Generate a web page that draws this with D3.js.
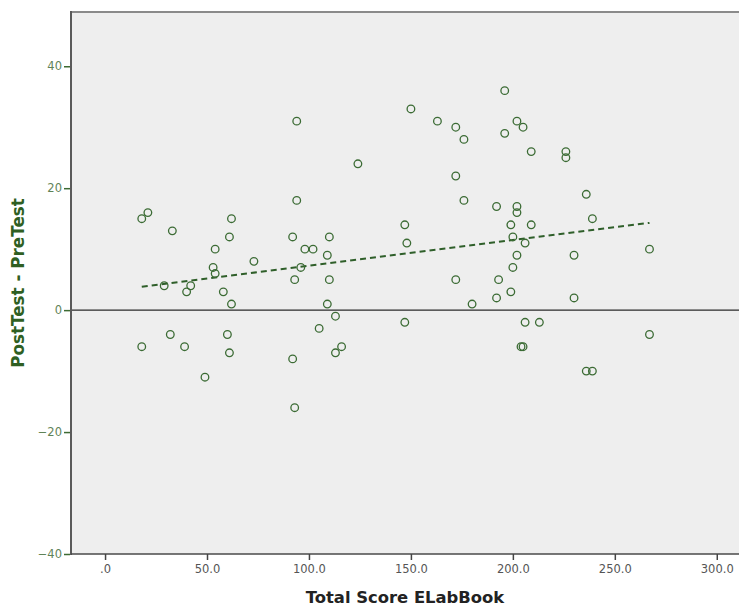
<!DOCTYPE html>
<html>
<head>
<meta charset="utf-8">
<script src="https://cdn.jsdelivr.net/npm/d3@7"></script>
<style>
html,body{margin:0;padding:0;background:#fff;}
svg{display:block;}
</style>
</head>
<body>
<svg id="chart" width="739" height="606"></svg>
<script>
// Data: Total Score ELabBook (x) vs PostTest - PreTest (y)
const scoreX = [94,124,21,18,33,62,61,94,92,110,54,98,102,109,73,53,54,96,93,110,29,42,40,58,62,109,113,105,32,60,18,39,61,116,113,92,49,93,
  196,150,163,172,176,202,205,196,209,226,226,172,236,176,192,202,202,239,147,199,209,148,200,206,267,202,230,200,172,193,199,192,230,180,147,206,213,267,204,205,236,239];
const diffY = [31,24,16,15,13,15,12,18,12,12,10,10,10,9,8,7,6,7,5,5,4,4,3,3,1,1,-1,-3,-4,-4,-6,-6,-7,-6,-7,-8,-11,-16,
  36,33,31,30,28,31,30,29,26,26,25,22,19,18,17,17,16,15,14,14,14,11,12,11,10,9,9,7,5,5,3,2,2,1,-2,-2,-2,-4,-6,-6,-10,-10];
const xTicks = [0,50,100,150,200,250,300];
const yTicks = [-40,-20,0,20,40];
const xTitle = "Total Score ELabBook";
const yTitle = "PostTest - PreTest";

const points = scoreX.map((x,i)=>({x, y: diffY[i]}));

const svg = d3.select("#chart");
const L = 71, R = 739, T = 12, B = 554;
const x = d3.scaleLinear().domain([-16.7, 310.9]).range([L, R]);
const y = d3.scaleLinear().domain([-40, 48.9]).range([B, T]);

// background
svg.append("rect").attr("x",L).attr("y",T).attr("width",R-L).attr("height",B-T).attr("fill","#eeeeee");

// zero reference line
svg.append("line").attr("x1",L).attr("x2",R).attr("y1",y(0)).attr("y2",y(0))
  .attr("stroke","#2a2a2a").attr("stroke-width",1.2);

// regression line (least squares from data)
const mx = d3.mean(points,d=>d.x), my = d3.mean(points,d=>d.y);
const slope = d3.sum(points,d=>(d.x-mx)*(d.y-my)) / d3.sum(points,d=>(d.x-mx)*(d.x-mx));
const icpt = my - slope*mx;
const [x0,x1] = d3.extent(points,d=>d.x);
svg.append("line")
  .attr("x1",x(x0)).attr("y1",y(icpt+slope*x0))
  .attr("x2",x(x1)).attr("y2",y(icpt+slope*x1))
  .attr("stroke","#2f5f2a").attr("stroke-width",2).attr("stroke-dasharray","6,4");

// points
svg.append("g").selectAll("circle").data(points).join("circle")
  .attr("cx",d=>x(d.x)).attr("cy",d=>y(d.y)).attr("r",3.8)
  .attr("fill","none").attr("stroke","#3b6b34").attr("stroke-width",1.3);

// frame
svg.append("line").attr("x1",L).attr("x2",R).attr("y1",T).attr("y2",T).attr("stroke","#8a8a8a").attr("stroke-width",2);
svg.append("line").attr("x1",L).attr("x2",L).attr("y1",T-1).attr("y2",B+1).attr("stroke","#5a5a5a").attr("stroke-width",2);
svg.append("line").attr("x1",L).attr("x2",R).attr("y1",B).attr("y2",B).attr("stroke","#4a4a4a").attr("stroke-width",1.5);

// y axis
const yAxis = svg.append("g").attr("transform",`translate(${L-1},0)`)
  .call(d3.axisLeft(y).tickValues(yTicks).tickSize(6).tickSizeOuter(0).tickPadding(2).tickFormat(d3.format("d")));
yAxis.select(".domain").remove();
yAxis.selectAll(".tick line").attr("stroke","#3d6b33").attr("stroke-width",1.5);
yAxis.selectAll(".tick text").attr("fill","#5f8357").style("font-family","DejaVu Sans, sans-serif").style("font-size","11.5px");

// x axis
const xAxis = svg.append("g").attr("transform",`translate(0,${B})`)
  .call(d3.axisBottom(x).tickValues(xTicks).tickSize(6).tickSizeOuter(0).tickPadding(5)
    .tickFormat(d => d===0 ? ".0" : d3.format(".1f")(d)));
xAxis.select(".domain").remove();
xAxis.selectAll(".tick line").attr("stroke","#444").attr("stroke-width",1.5);
xAxis.selectAll(".tick text").attr("fill","#555").style("font-family","DejaVu Sans, sans-serif").style("font-size","11.5px");

// titles
svg.append("text").attr("x",(L+R)/2).attr("y",603).attr("text-anchor","middle")
  .attr("fill","#222").style("font-family","DejaVu Sans, sans-serif").style("font-size","16.4px").style("font-weight","bold")
  .text(xTitle);
svg.append("text").attr("transform",`translate(24,${(T+B)/2}) rotate(-90)`).attr("text-anchor","middle")
  .attr("fill","#2f5f22").style("font-family","DejaVu Sans, sans-serif").style("font-size","16.8px").style("font-weight","bold")
  .text(yTitle);
</script>
</body>
</html>
